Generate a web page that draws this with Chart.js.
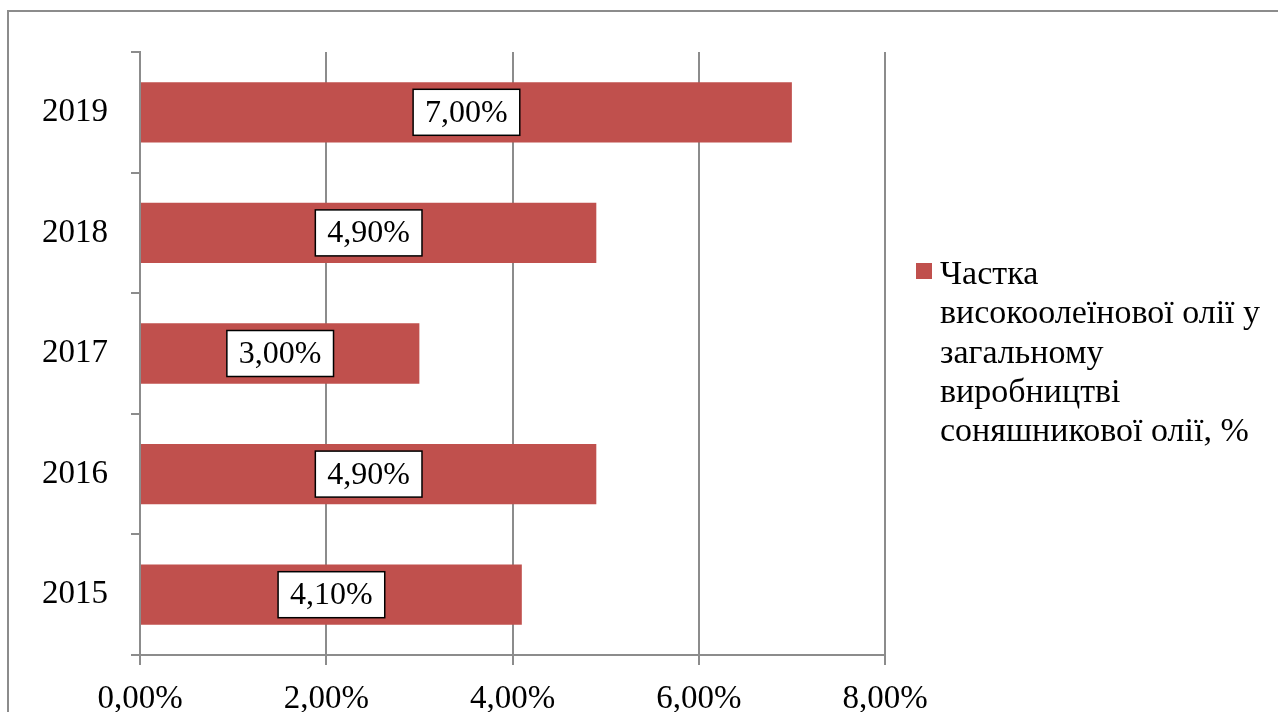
<!DOCTYPE html>
<html>
<head>
<meta charset="utf-8">
<script src="https://cdn.jsdelivr.net/npm/chart.js@4/dist/chart.umd.min.js"></script>
<style>
  body { margin: 0; background: #fff; }
  canvas { display: block; }
</style>
</head>
<body>
<canvas id="chart" width="1278" height="712"></canvas>
<script>
const years = ["2015", "2016", "2017", "2018", "2019"];
const shares = [4.1, 4.9, 3.0, 4.9, 7.0];
const xTicks = [0, 2, 4, 6, 8];
const legendLines = [
  "Частка",
  "високоолеїнової олії у",
  "загальному",
  "виробництві",
  "соняшникової олії, %"
];

const SERIF = "'Liberation Serif', 'Times New Roman', serif";
const GRID = "#8c8c8c";
const BAR = "#C0504D";

function pct(v) {
  return Number(v).toFixed(2).replace(".", ",") + "%";
}

// outer frame of the chart object (only left & top edges show)
const framePlugin = {
  id: "frame",
  beforeDraw(chart) {
    const ctx = chart.ctx;
    ctx.save();
    ctx.strokeStyle = GRID;
    ctx.lineWidth = 2;
    ctx.strokeRect(8, 11, chart.width + 20, chart.height + 20);
    ctx.restore();
  }
};

// white boxed value labels in the middle of each bar
const boxLabels = {
  id: "boxLabels",
  afterDatasetsDraw(chart) {
    const ctx = chart.ctx;
    const meta = chart.getDatasetMeta(0);
    ctx.save();
    ctx.font = "32px " + SERIF;
    ctx.textAlign = "center";
    ctx.textBaseline = "middle";
    meta.data.forEach((bar, i) => {
      const txt = pct(shares[i]);
      const cx = (bar.x + bar.base) / 2;
      const cy = bar.y;
      const w = ctx.measureText(txt).width + 24;
      const h = 46;
      ctx.fillStyle = "#fff";
      ctx.fillRect(cx - w / 2, cy - h / 2, w, h);
      ctx.strokeStyle = "#000";
      ctx.lineWidth = 1.5;
      ctx.strokeRect(cx - w / 2, cy - h / 2, w, h);
      ctx.fillStyle = "#000";
      ctx.fillText(txt, cx, cy + 1);
    });
    ctx.restore();
  }
};

// legend with wrapped text on the right
const sideLegend = {
  id: "sideLegend",
  afterDraw(chart) {
    const ctx = chart.ctx;
    ctx.save();
    ctx.fillStyle = BAR;
    ctx.fillRect(916, 263, 16, 16);
    ctx.fillStyle = "#000";
    ctx.font = "34px " + SERIF;
    ctx.textAlign = "left";
    ctx.textBaseline = "alphabetic";
    legendLines.forEach((line, i) => {
      ctx.fillText(line, 940, 284 + i * 39.3);
    });
    ctx.restore();
  }
};

new Chart(document.getElementById("chart"), {
  type: "bar",
  data: {
    labels: years,
    datasets: [{
      label: legendLines.join(" "),
      data: shares,
      backgroundColor: BAR,
      borderWidth: 0,
      barPercentage: 0.5,
      categoryPercentage: 1
    }]
  },
  options: {
    indexAxis: "y",
    responsive: false,
    animation: false,
    layout: { padding: { left: 0, top: 52, right: 393, bottom: 0 } },
    plugins: {
      legend: { display: false },
      tooltip: { enabled: false }
    },
    scales: {
      x: {
        min: 0,
        max: 8,
        afterFit(scale) { scale.height = 57; },
        afterBuildTicks(scale) { scale.ticks = xTicks.map(v => ({ value: v })); },
        grid: { color: GRID, lineWidth: 2, tickLength: 10 },
        border: { color: GRID, width: 2 },
        ticks: {
          color: "#000",
          font: { family: SERIF, size: 33 },
          padding: 15,
          maxRotation: 0,
          callback: v => pct(v)
        }
      },
      y: {
        reverse: true,
        afterFit(scale) { scale.width = 140; },
        grid: { offset: true, drawOnChartArea: false, color: GRID, lineWidth: 2, tickLength: 9 },
        border: { color: GRID, width: 2 },
        ticks: {
          color: "#000",
          font: { family: SERIF, size: 33 },
          padding: 23
        }
      }
    }
  },
  plugins: [framePlugin, boxLabels, sideLegend]
});
</script>
</body>
</html>
